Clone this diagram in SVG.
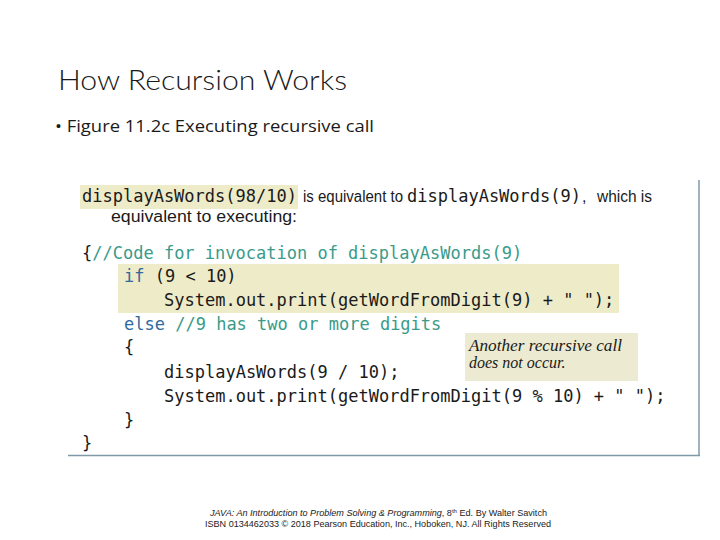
<svg xmlns="http://www.w3.org/2000/svg" width="720" height="540" viewBox="0 0 720 540">
<style>
.mono{font-family:"DejaVu Sans Mono","Liberation Mono",monospace;font-size:17px;fill:#1a1a1a}
.kw{fill:#2f6a9e}
.cm{fill:#3a9b8a}
.sans{font-family:"Liberation Sans",Arial,sans-serif;font-size:16px;fill:#1a1a1a}
.hl{fill:#eeebc9}
.frame{stroke:#7f9aa6;stroke-width:1.5;fill:none}
</style>
<rect width="720" height="540" fill="#ffffff"/>
<g id="title">
<text x="58" y="90" font-family="Lato,'Open Sans',sans-serif" font-size="28" font-weight="300" fill="#1a1a1a" textLength="289" lengthAdjust="spacingAndGlyphs">How Recursion Works</text>
</g>
<g id="subtitle">
<text x="55" y="132" font-family="'Open Sans',Lato,sans-serif" font-size="17" fill="#1a1a1a" textLength="319" lengthAdjust="spacingAndGlyphs">• Figure 11.2c Executing recursive call</text>
</g>
<g id="frame">
<line class="frame" x1="699" y1="180" x2="699" y2="456"/>
<line class="frame" x1="68" y1="455.5" x2="700" y2="455.5"/>
</g>
<g id="highlights">
<rect class="hl" x="80" y="185" width="218" height="24"/>
<rect class="hl" x="118" y="264" width="501" height="49"/>
</g>
<g id="intro">
<text class="mono" x="82" y="202">displayAsWords(98/10)</text>
<text class="sans" x="303" y="202" textLength="100" lengthAdjust="spacingAndGlyphs">is equivalent to</text>
<text class="mono" x="407" y="202">displayAsWords(9)</text>
<text class="sans" x="582" y="202">,</text>
<text class="sans" x="597" y="202" textLength="55" lengthAdjust="spacingAndGlyphs">which is</text>
<text class="sans" x="111" y="222" textLength="186" lengthAdjust="spacingAndGlyphs">equivalent to executing:</text>
</g>
<g id="code" class="mono">
<text class="mono" x="82" y="259">{<tspan class="cm">//Code for invocation of displayAsWords(9)</tspan></text>
<text class="mono" x="124" y="282"><tspan class="kw">if</tspan> (9 &lt; 10)</text>
<text class="mono" x="164" y="306">System.out.print(getWordFromDigit(9) + " ");</text>
<text class="mono" x="124" y="330"><tspan class="kw">else</tspan> <tspan class="cm">//9 has two or more digits</tspan></text>
<text class="mono" x="124" y="353">{</text>
<text class="mono" x="164" y="378">displayAsWords(9 / 10);</text>
<text class="mono" x="164" y="402">System.out.print(getWordFromDigit(9 % 10) + " ");</text>
<text class="mono" x="124" y="426">}</text>
<text class="mono" x="82" y="449">}</text>
</g>
<g id="callout">
<rect x="465" y="333" width="173" height="48" fill="#ecead0"/>
<text x="469" y="351" font-family="'Liberation Serif','Times New Roman',serif" font-style="italic" font-size="16" fill="#1a1a1a" textLength="153" lengthAdjust="spacingAndGlyphs">Another recursive call</text>
<text x="469" y="368" font-family="'Liberation Serif','Times New Roman',serif" font-style="italic" font-size="16" fill="#1a1a1a">does not occur.</text>
</g>
<g id="footer">
<text x="210" y="516" font-family="'Liberation Sans',Arial,sans-serif" font-size="9" fill="#1a1a1a" textLength="337" lengthAdjust="spacingAndGlyphs"><tspan font-style="italic">JAVA: An Introduction to Problem Solving &amp; Programming</tspan>, 8<tspan font-size="6" dy="-3">th</tspan><tspan dy="3"> Ed. By Walter Savitch</tspan></text>
<text x="205" y="527" font-family="'Liberation Sans',Arial,sans-serif" font-size="9" fill="#1a1a1a" textLength="346" lengthAdjust="spacingAndGlyphs">ISBN 0134462033 © 2018 Pearson Education, Inc., Hoboken, NJ. All Rights Reserved</text>
</g>
</svg>
